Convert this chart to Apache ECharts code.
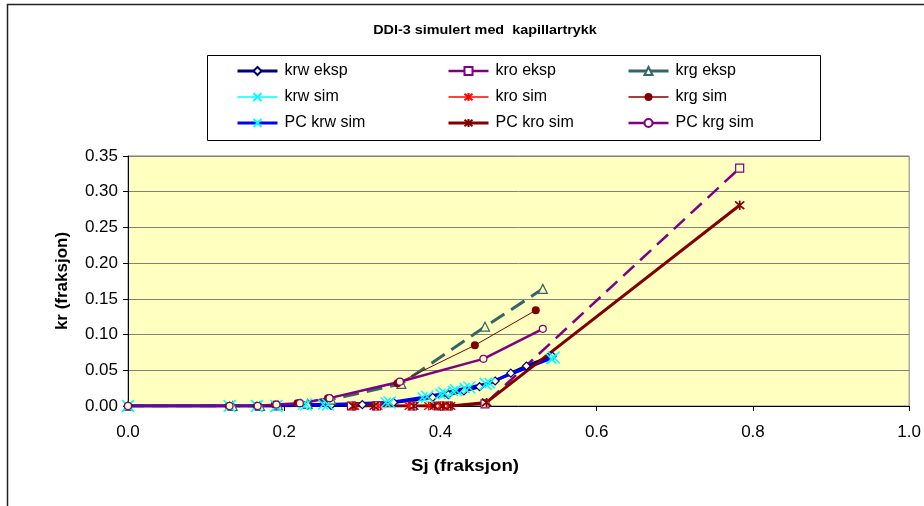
<!DOCTYPE html>
<html>
<head>
<meta charset="utf-8">
<script src="https://cdn.jsdelivr.net/npm/echarts@6/dist/echarts.min.js"></script>
<style>
  html, body { margin: 0; padding: 0; background: #fff; }
  #chart { width: 924px; height: 506px; }
</style>
</head>
<body>
<div id="chart"></div>
<script>
// Relative permeability, DDI-3, simulated with capillary pressure
const xTicks = [0.0, 0.2, 0.4, 0.6, 0.8, 1.0];
const yTicks = [0.00, 0.05, 0.10, 0.15, 0.20, 0.25, 0.30, 0.35];

const krwEkspX = [0, 0.13, 0.165, 0.19, 0.23, 0.26, 0.30, 0.34, 0.39, 0.41, 0.43, 0.45, 0.47, 0.49, 0.51, 0.543];
const krwEkspY = [0, 0, 0, 0, 0.001, 0.001, 0.002, 0.005, 0.012, 0.016, 0.021, 0.027, 0.035, 0.046, 0.056, 0.070];

const kroEkspX = [0.286, 0.318, 0.364, 0.399, 0.41, 0.457, 0.783];
const kroEkspY = [0, 0, 0, 0, 0, 0.003, 0.333];

const krgEkspX = [0, 0.134, 0.169, 0.192, 0.23, 0.26, 0.35, 0.457, 0.531];
const krgEkspY = [0, 0, 0, 0.001, 0.003, 0.009, 0.031, 0.111, 0.164];

const krwSimX = [0, 0.13, 0.165, 0.19, 0.224, 0.25, 0.33, 0.377, 0.40, 0.416, 0.431, 0.463, 0.542];
const krwSimY = [0, 0, 0, 0, 0.002, 0.002, 0.005, 0.012, 0.017, 0.021, 0.025, 0.032, 0.066];

const kroSimX = [0.29, 0.32, 0.36, 0.385, 0.40, 0.41, 0.459, 0.783];
const kroSimY = [0, 0, 0, 0, 0, 0, 0.005, 0.281];

const krgSimX = [0, 0.129, 0.165, 0.188, 0.217, 0.256, 0.345, 0.444, 0.522];
const krgSimY = [0, 0, 0, 0.002, 0.004, 0.011, 0.032, 0.085, 0.134];

const pcKrwSimX = [0, 0.13, 0.165, 0.19, 0.228, 0.256, 0.335, 0.383, 0.405, 0.42, 0.437, 0.458, 0.545];
const pcKrwSimY = [0, 0, 0, 0, 0.002, 0.002, 0.005, 0.013, 0.018, 0.022, 0.026, 0.031, 0.068];

const pcKroSimX = [0.288, 0.315, 0.366, 0.392, 0.403, 0.413, 0.459, 0.783];
const pcKroSimY = [0, 0, 0, 0, 0, 0, 0.005, 0.281];

const pcKrgSimX = [0, 0.13, 0.166, 0.19, 0.22, 0.258, 0.348, 0.455, 0.531];
const pcKrgSimY = [0, 0, 0, 0.002, 0.004, 0.011, 0.034, 0.066, 0.108];

const FONT = '"Liberation Sans", Arial, sans-serif';
const PLOT_BG = '#FFFFC0';
const SYM_X = 'path://M0,0L10,10M10,0L0,10';
const SYM_STAR = 'path://M0,0L10,10M10,0L0,10M5,-1L5,11';

const zip = (xs, ys) => xs.map((x, i) => [x, ys[i]]);

const styles = {};
function lineSeries(name, xs, ys, o) {
  styles[name] = o;
  return {
    name: name,
    type: 'line',
    data: zip(xs, ys),
    symbol: o.symbol,
    symbolSize: o.size,
    showAllSymbol: true,
    animation: false,
    lineStyle: { color: o.line, width: o.width, type: o.dash || 'solid' },
    itemStyle: {
      color: o.fill,
      borderColor: o.stroke,
      borderWidth: o.bw
    },
    emphasis: { disabled: true }
  };
}

const series = [
  lineSeries('krw eksp', krwEkspX, krwEkspY, { symbol: 'diamond', size: 8, line: '#000080', width: 3, fill: PLOT_BG, stroke: '#000080', bw: 1.2, hollow: true }),
  lineSeries('kro eksp', kroEkspX, kroEkspY, { symbol: 'rect', size: 8, line: '#800080', width: 2.5, dash: [15, 8], fill: PLOT_BG, stroke: '#800080', bw: 1.2, hollow: true }),
  lineSeries('krg eksp', krgEkspX, krgEkspY, { symbol: 'triangle', size: 9, line: '#336666', width: 3, dash: [16, 8], fill: PLOT_BG, stroke: '#336666', bw: 1.2, hollow: true }),
  lineSeries('krw sim', krwSimX, krwSimY, { symbol: SYM_X, size: 10, line: '#00FFFF', width: 1, fill: '#00FFFF', stroke: '#00FFFF', bw: 1.5 }),
  lineSeries('kro sim', kroSimX, kroSimY, { symbol: SYM_STAR, size: 9, line: '#FF0000', width: 1, fill: '#FF0000', stroke: '#FF0000', bw: 1.5 }),
  lineSeries('krg sim', krgSimX, krgSimY, { symbol: 'circle', size: 8, line: '#800000', width: 1, fill: '#800000', stroke: '#800000', bw: 0 }),
  lineSeries('PC krw sim', pcKrwSimX, pcKrwSimY, { symbol: SYM_X, size: 12, line: '#0000FF', width: 3, fill: '#00FFFF', stroke: '#00FFFF', bw: 1.5 }),
  lineSeries('PC kro sim', pcKroSimX, pcKroSimY, { symbol: SYM_STAR, size: 9, line: '#800000', width: 3, fill: '#800000', stroke: '#800000', bw: 1.5 }),
  lineSeries('PC krg sim', pcKrgSimX, pcKrgSimY, { symbol: 'circle', size: 7, line: '#800080', width: 2.5, fill: PLOT_BG, stroke: '#800080', bw: 1.2, hollow: true })
];

// legend entries: one column per phase, hollow markers white on the legend panel
function legendCol(names, left) {
  return {
    orient: 'vertical',
    left: left,
    top: 58,
    itemWidth: 40,
    itemHeight: 10,
    itemGap: 10,
    selectedMode: false,
    textStyle: { fontFamily: FONT, fontSize: 16, color: '#000', padding: [0, 0, 0, 2] },
    data: names.map(n => {
      const s = styles[n];
      return {
        name: n,
        itemStyle: s.hollow ? { color: '#fff' } : undefined,
        lineStyle: { width: Math.max(s.width, 1.5), type: 'solid', color: s.line }
      };
    })
  };
}

const chart = echarts.init(document.getElementById('chart'), null, { renderer: 'canvas' });
chart.setOption({
  animation: false,
  backgroundColor: '#fff',
  graphic: [
    { type: 'rect', z: -10, shape: { x: 7.5, y: 4.5, width: 1000, height: 600 }, style: { fill: '#fff', stroke: '#222', lineWidth: 1.5 } },
    { type: 'rect', z: -5, shape: { x: 207.5, y: 55.5, width: 613, height: 85 }, style: { fill: '#fff', stroke: '#000', lineWidth: 1 } },
    { type: 'text', x: 485, y: 31, scaleX: 1.15, style: { x: 0, y: 0, text: 'DDI-3 simulert med  kapillartrykk', font: 'bold 12.5px ' + FONT, fill: '#000', align: 'center', verticalAlign: 'middle' } },
    { type: 'text', x: 465, y: 466, scaleX: 1.1, style: { x: 0, y: 0, text: 'Sj (fraksjon)', font: 'bold 17px ' + FONT, fill: '#000', align: 'center', verticalAlign: 'middle' } },
    { type: 'text', rotation: Math.PI / 2, x: 62, y: 281, style: { x: 0, y: 0, text: 'kr (fraksjon)', font: 'bold 17px ' + FONT, fill: '#000', align: 'center', verticalAlign: 'middle' } }
  ],
  legend: [
    legendCol(['krw eksp', 'krw sim', 'PC krw sim'], 231),
    legendCol(['kro eksp', 'kro sim', 'PC kro sim'], 442),
    legendCol(['krg eksp', 'krg sim', 'PC krg sim'], 622)
  ],
  grid: {
    left: 128, right: 14, top: 156, bottom: 100,
    show: true, backgroundColor: PLOT_BG, borderColor: '#808080', borderWidth: 1
  },
  xAxis: {
    type: 'value',
    min: xTicks[0], max: xTicks[xTicks.length - 1], interval: 0.2,
    axisLine: { show: true, lineStyle: { color: '#000', width: 1 } },
    axisTick: { show: true, inside: false, length: 5, lineStyle: { color: '#000' } },
    axisLabel: { margin: 18, fontFamily: FONT, fontSize: 17, color: '#000', formatter: v => v.toFixed(1) },
    splitLine: { show: false }
  },
  yAxis: {
    type: 'value',
    min: yTicks[0], max: yTicks[yTicks.length - 1], interval: 0.05,
    axisLine: { show: true, lineStyle: { color: '#000', width: 1 } },
    axisTick: { show: true, inside: false, length: 5, lineStyle: { color: '#000' } },
    axisLabel: { margin: 10, fontFamily: FONT, fontSize: 17, color: '#000', formatter: v => v.toFixed(2) },
    splitLine: { show: true, lineStyle: { color: '#808080', width: 1 } }
  },
  series: series
});
</script>
</body>
</html>
